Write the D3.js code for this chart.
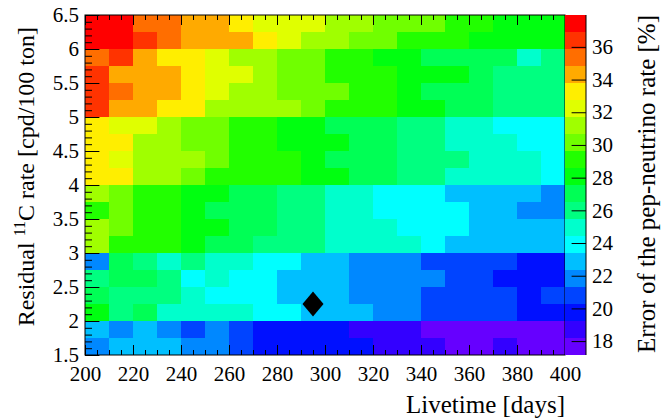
<!DOCTYPE html>
<html><head><meta charset="utf-8">
<script src="https://cdn.jsdelivr.net/npm/d3@7"></script>
<style>
body{margin:0;background:#fff}
svg{display:block}
text{font-family:"Liberation Serif","Times New Roman",serif;fill:#000}
</style></head><body>
<svg id="chart" width="668" height="420"></svg>
<script>
// ---- data ----
const livetimeEdges = [200,210,220,230,240,250,260,270,280,290,300,310,320,330,340,350,360,370,380,390,400];
const rateEdges = [1.5,1.75,2,2.25,2.5,2.75,3,3.25,3.5,3.75,4,4.25,4.5,4.75,5,5.25,5.5,5.75,6,6.25,6.5];
const xTickLabels = [200,220,240,260,280,300,320,340,360,380,400];
const yTickLabels = [1.5,2,2.5,3,3.5,4,4.5,5,5.5,6,6.5];
const zTickLabels = [18,20,22,24,26,28,30,32,34,36];
const zRange = [17.15,37.95];
const palette = ['#6600ff','#3300ff','#0010ff','#0044ff','#0088ff','#00bfff','#00ffff','#00ffcc','#00ff80','#00ff55',
                 '#00ff10','#22ff00','#70ff00','#a0ff00','#e0ff00','#ffee00','#ffaa00','#ff6e00','#ff3300','#ff0000'];
// rows listed from the highest rate bin (6.25-6.5) down to the lowest (1.5-1.75); columns 200..390 days
const pepError = [
 [37.4,37.4,35.4,35.4,34.3,34.3,33.3,32.2,32.2,32.2,31.2,31.2,30.1,30.1,30.1,29.1,29.1,28.0,28.0,28.0],
 [37.4,37.4,36.4,35.4,34.3,34.3,34.3,33.3,32.2,31.2,31.2,30.1,30.1,29.1,29.1,29.1,28.0,28.0,28.0,28.0],
 [35.4,36.4,34.3,33.3,33.3,32.2,31.2,31.2,30.1,30.1,29.1,29.1,28.0,28.0,27.0,27.0,27.0,27.0,24.9,26.0],
 [36.4,34.3,34.3,34.3,33.3,32.2,32.2,31.2,30.1,30.1,29.1,29.1,29.1,28.0,28.0,28.0,27.0,26.0,26.0,26.0],
 [36.4,35.4,34.3,34.3,33.3,32.2,31.2,31.2,30.1,30.1,30.1,29.1,29.1,28.0,27.0,27.0,27.0,26.0,26.0,26.0],
 [36.4,34.3,34.3,33.3,33.3,31.2,31.2,31.2,31.2,30.1,29.1,29.1,29.1,28.0,28.0,27.0,27.0,26.0,26.0,26.0],
 [33.3,32.2,32.2,31.2,30.1,30.1,29.1,29.1,28.0,28.0,27.0,27.0,27.0,26.0,26.0,24.9,24.9,23.9,23.9,23.9],
 [33.3,33.3,31.2,31.2,30.1,30.1,29.1,29.1,28.0,28.0,28.0,27.0,27.0,26.0,26.0,24.9,24.9,24.9,23.9,23.9],
 [33.3,32.2,31.2,31.2,31.2,30.1,29.1,29.1,29.1,28.0,27.0,27.0,27.0,26.0,26.0,26.0,24.9,24.9,24.9,23.9],
 [33.3,33.3,31.2,31.2,30.1,29.1,29.1,29.1,29.1,28.0,28.0,27.0,27.0,26.0,26.0,24.9,24.9,24.9,24.9,23.9],
 [31.2,30.1,29.1,29.1,28.0,28.0,27.0,27.0,26.0,26.0,24.9,24.9,23.9,23.9,23.9,22.8,22.8,22.8,22.8,21.8],
 [29.1,30.1,29.1,29.1,28.0,27.0,27.0,27.0,26.0,26.0,24.9,24.9,23.9,23.9,23.9,23.9,22.8,22.8,21.8,21.8],
 [31.2,30.1,29.1,29.1,28.0,28.0,27.0,27.0,26.0,26.0,24.9,24.9,24.9,23.9,23.9,23.9,22.8,22.8,22.8,22.8],
 [31.2,29.1,29.1,29.1,28.0,27.0,27.0,26.0,26.0,26.0,24.9,24.9,24.9,24.9,23.9,22.8,22.8,22.8,22.8,22.8],
 [21.8,27.0,26.0,24.9,26.0,24.9,24.9,23.9,23.9,22.8,22.8,21.8,21.8,21.8,20.7,20.7,20.7,20.7,19.7,19.7],
 [26.0,27.0,27.0,26.0,23.9,24.9,23.9,23.9,22.8,22.8,22.8,21.8,21.8,21.8,21.8,20.7,20.7,19.7,19.7,19.7],
 [27.0,26.0,26.0,26.0,24.9,23.9,23.9,23.9,22.8,22.8,22.8,21.8,21.8,21.8,20.7,20.7,20.7,20.7,19.7,20.7],
 [28.0,26.0,27.0,24.9,24.9,24.9,24.9,23.9,23.9,22.8,22.8,22.8,21.8,21.8,20.7,20.7,20.7,20.7,19.7,19.7],
 [22.8,21.8,22.8,21.8,20.7,21.8,20.7,19.7,19.7,19.7,19.7,18.7,18.7,18.7,17.6,17.6,17.6,17.6,17.6,17.6],
 [21.8,22.8,22.8,22.8,21.8,21.8,20.7,19.7,19.7,19.7,19.7,19.7,18.7,18.7,18.7,17.6,17.6,18.7,17.6,17.6]
];
const bestPoint = [{livetime:295, rate:2.25}];

// ---- layout ----
const L = 85, R = 565, T = 15, B = 355;
const svg = d3.select('#chart');
const x = d3.scaleLinear().domain([200,400]).range([L,R]);
const y = d3.scaleLinear().domain([1.5,6.5]).range([B,T]);
const color = d3.scaleQuantize().domain(zRange).range(palette);
const z = d3.scaleLinear().domain(zRange).range([B,T]);

// cells
const nRows = pepError.length;
const cells = [];
pepError.forEach((row, r) => {
  const lo = rateEdges[nRows-1-r], hi = rateEdges[nRows-r];
  row.forEach((v, c) => cells.push({x0:livetimeEdges[c], x1:livetimeEdges[c+1], y0:lo, y1:hi, v}));
});
svg.append('g').selectAll('rect').data(cells).join('rect')
  .attr('x', d => x(d.x0)).attr('width', d => x(d.x1)-x(d.x0))
  .attr('y', d => y(d.y1)).attr('height', d => y(d.y0)-y(d.y1))
  .attr('fill', d => color(d.v)).attr('shape-rendering','crispEdges');

// marker
svg.append('g').selectAll('path').data(bestPoint).join('path')
  .attr('transform', d => `translate(${x(d.livetime)},${y(d.rate)})`)
  .attr('d', 'M0,-12.5L10.5,0L0,12.5L-10.5,0Z').attr('fill','#000');

// axes
function styleAxis(g){ g.select('.domain').remove(); g.selectAll('line').attr('stroke','#000').attr('stroke-width',1); }
const xb = svg.append('g').attr('transform',`translate(0,${B})`)
  .call(d3.axisBottom(x).tickValues(xTickLabels).tickSize(-10).tickPadding(11).tickFormat(d3.format('d')));
xb.call(styleAxis); xb.selectAll('text').attr('font-size',21).attr('font-family','"Liberation Serif",serif');
svg.append('g').attr('transform',`translate(0,${B})`)
  .call(d3.axisBottom(x).ticks(40).tickSize(-5).tickFormat('')).call(styleAxis);
svg.append('g').attr('transform',`translate(0,${T})`)
  .call(d3.axisTop(x).tickValues(xTickLabels).tickSize(-10).tickFormat('')).call(styleAxis);
svg.append('g').attr('transform',`translate(0,${T})`)
  .call(d3.axisTop(x).ticks(40).tickSize(-5).tickFormat('')).call(styleAxis);

const yl = svg.append('g').attr('transform',`translate(${L},0)`)
  .call(d3.axisLeft(y).tickValues(yTickLabels).tickSize(-14.4).tickPadding(6).tickFormat(d => String(d)));
yl.call(styleAxis); yl.selectAll('text').attr('font-size',21).attr('font-family','"Liberation Serif",serif');
svg.append('g').attr('transform',`translate(${L},0)`)
  .call(d3.axisLeft(y).ticks(50).tickSize(-7).tickFormat('')).call(styleAxis);

// frame
svg.append('rect').attr('x',L).attr('y',T).attr('width',R-L).attr('height',B-T)
  .attr('fill','none').attr('stroke','#000').attr('stroke-width',1);

// color bar
const CB0 = 565, CB1 = 586;
svg.append('g').selectAll('rect').data(palette).join('rect')
  .attr('x', CB0).attr('width', CB1-CB0)
  .attr('y', c => z(color.invertExtent(c)[1])).attr('height', c => z(color.invertExtent(c)[0]) - z(color.invertExtent(c)[1]))
  .attr('fill', c => c).attr('shape-rendering','crispEdges');
const zr = svg.append('g').attr('transform',`translate(${CB1},0)`)
  .call(d3.axisRight(z).tickValues(zTickLabels).tickSize(-14.4).tickPadding(6).tickFormat(d3.format('d')));
zr.select('.domain').remove();
zr.selectAll('line').attr('stroke','#000');
zr.selectAll('text').attr('font-size',21).attr('font-family','"Liberation Serif",serif');
svg.append('line').attr('x1',CB1).attr('x2',CB1).attr('y1',T).attr('y2',B).attr('stroke','#000');

// titles
svg.append('text').attr('x',R).attr('y',413).attr('text-anchor','end').attr('font-size',25).text('Livetime [days]');
const yt = svg.append('text').attr('transform',`translate(34,27) rotate(-90)`).attr('text-anchor','end').attr('font-size',24);
yt.append('tspan').text('Residual ');
yt.append('tspan').attr('font-size',16).attr('dy',-9).text('11');
yt.append('tspan').attr('dy',9).text('C rate [cpd/100 ton]');
svg.append('text').attr('transform',`translate(655,15) rotate(-90)`).attr('text-anchor','end').attr('font-size',25)
  .text('Error of the pep-neutrino rate [%]');
</script>
</body></html>
